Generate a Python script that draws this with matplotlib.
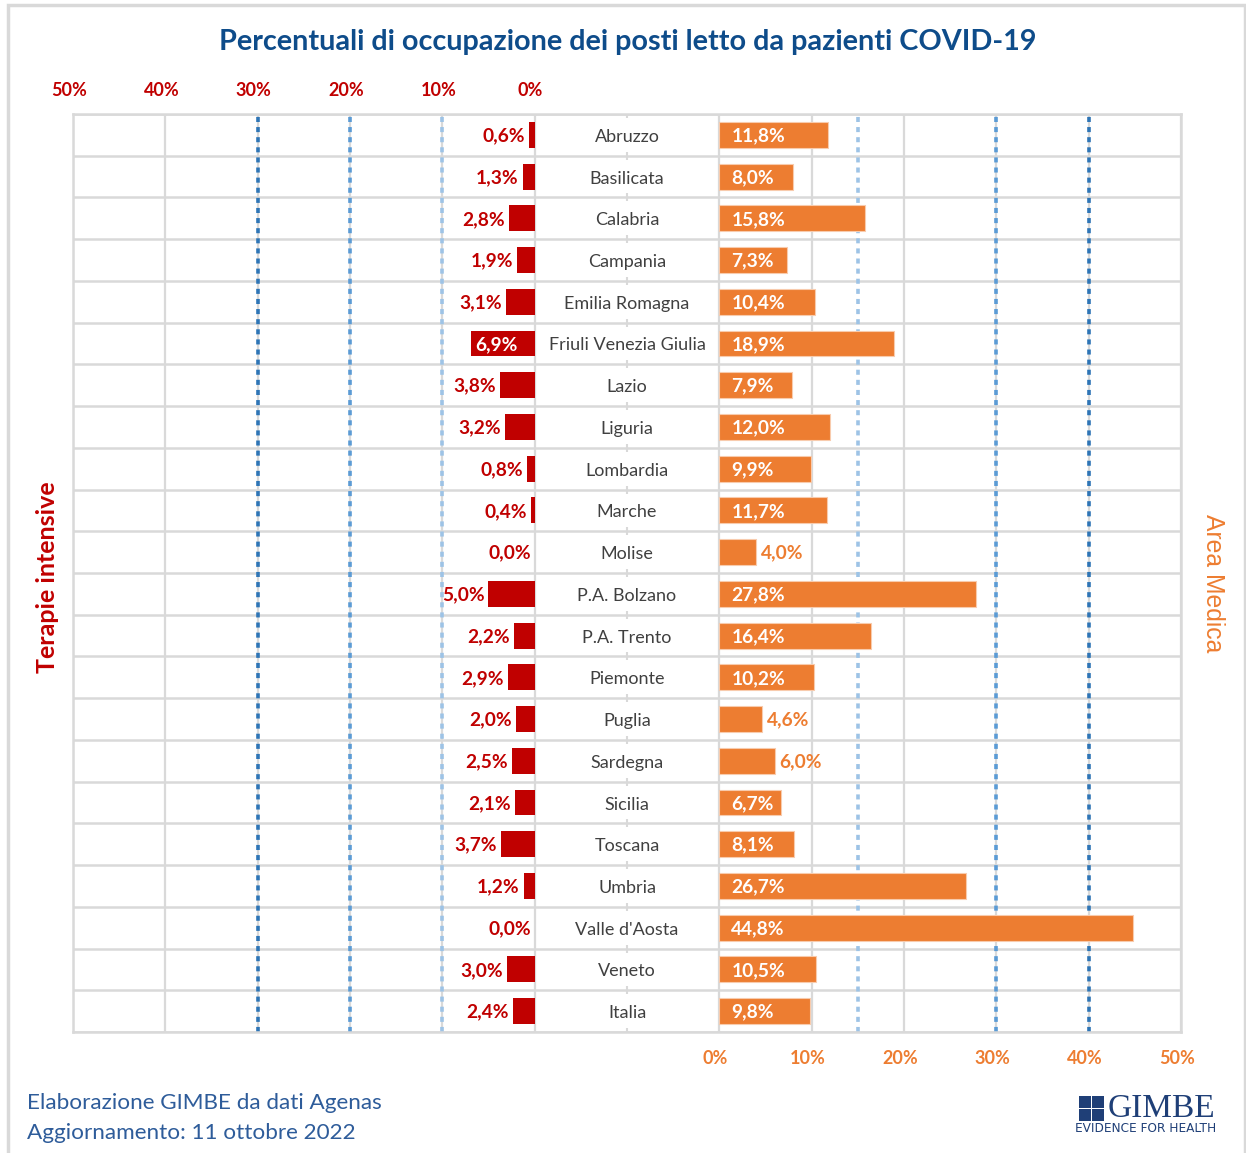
import matplotlib
matplotlib.use("Agg")
import matplotlib.pyplot as plt
from matplotlib.patches import Rectangle
from matplotlib.transforms import ScaledTranslation
import numpy as np

regions = ["Abruzzo", "Basilicata", "Calabria", "Campania", "Emilia Romagna",
           "Friuli Venezia Giulia", "Lazio", "Liguria", "Lombardia", "Marche",
           "Molise", "P.A. Bolzano", "P.A. Trento", "Piemonte", "Puglia",
           "Sardegna", "Sicilia", "Toscana", "Umbria", "Valle d'Aosta",
           "Veneto", "Italia"]
terapie_intensive = [0.6, 1.3, 2.8, 1.9, 3.1, 6.9, 3.8, 3.2, 0.8, 0.4, 0.0,
                     5.0, 2.2, 2.9, 2.0, 2.5, 2.1, 3.7, 1.2, 0.0, 3.0, 2.4]
area_medica = [11.8, 8.0, 15.8, 7.3, 10.4, 18.9, 7.9, 12.0, 9.9, 11.7, 4.0,
               27.8, 16.4, 10.2, 4.6, 6.0, 6.7, 8.1, 26.7, 44.8, 10.5, 9.8]
tick_values = [0, 10, 20, 30, 40, 50]
ti_thresholds = [10, 20, 30]
am_thresholds = [15, 30, 40]

RED = "#C00000"
ORANGE = "#ED7D31"
GRID = "#D9D9D9"
TITLE_BLUE = "#0E4C8A"
THRESH_COLORS = ["#9DC3E6", "#5B9BD5", "#2E75B6"]

# layout: left panel 0..50 (reversed), label gap 50..70, right panel 70..120
L0 = 50
R0 = 70
MID = 60
XMAX = 120

plt.rcParams['font.family'] = ['Lato', 'DejaVu Sans']

W, H = 1246, 1153
fig = plt.figure(figsize=(W / 100, H / 100), dpi=100)
fig.patch.set_facecolor("white")

# outer frame
fig.patches.append(Rectangle((8 / W, -0.05), (1245 - 8) / W, 1.05 - 5 / H,
                             transform=fig.transFigure, fill=False,
                             edgecolor=GRID, linewidth=2.5))

ax = fig.add_axes([73 / W, 1 - 1032 / H, (1181 - 73) / W, (1032 - 114) / H])
n = len(regions)
y = np.arange(n) + 0.5
ax.set_xlim(0, XMAX)
ax.set_ylim(n, 0)

ti = np.array(terapie_intensive)
am = np.array(area_medica)

# grid
for u in [L0 - t for t in tick_values] + [R0 + t for t in tick_values]:
    ax.axvline(u, color=GRID, lw=1.6, zorder=0)
for k in range(n + 1):
    ax.axhline(k, color=GRID, lw=1.8, zorder=0)
ax.scatter([MID] * (n + 1), np.arange(n + 1), marker="|", s=30,
           color=GRID, linewidths=1.5, zorder=0)

# thresholds
for t, c in zip(ti_thresholds, THRESH_COLORS):
    ax.axvline(L0 - t, color=c, lw=2.6, linestyle=(0, (1.4, 1.4)), zorder=1)
for t, c in zip(am_thresholds, THRESH_COLORS):
    ax.axvline(R0 + t, color=c, lw=2.6, linestyle=(0, (1.4, 1.4)), zorder=1)

bh = 0.62
ax.barh(y, ti, left=L0 - ti, height=bh, color=RED, zorder=3)
ax.barh(y, am, left=R0, height=bh, color=ORANGE, edgecolor="#F8CBAD",
        linewidth=0.8, zorder=3)

fmt = lambda v: f"{v:.1f}%".replace(".", ",")
VS = 13.8

for yi, v in zip(y, ti):
    if v >= 6:
        ax.annotate(fmt(v), (L0 - v, yi), xytext=(4, -1),
                    textcoords="offset pixels", ha="left", va="center",
                    color="white", fontsize=VS, fontweight="bold", zorder=4)
    else:
        ax.annotate(fmt(v), (L0 - v, yi), xytext=(-4, -1),
                    textcoords="offset pixels", ha="right", va="center",
                    color=RED, fontsize=VS, fontweight="bold", zorder=4)

for yi, v in zip(y, am):
    if v >= 6.5:
        ax.annotate(fmt(v), (R0, yi), xytext=(12, -1),
                    textcoords="offset pixels", ha="left", va="center",
                    color="white", fontsize=VS, fontweight="bold", zorder=4)
    else:
        ax.annotate(fmt(v), (R0 + v, yi), xytext=(5, -1),
                    textcoords="offset pixels", ha="left", va="center",
                    color=ORANGE, fontsize=VS, fontweight="bold", zorder=4)

for yi, name in zip(y, regions):
    ax.annotate(name, (MID, yi), xytext=(0, -2), textcoords="offset pixels",
                ha="center", va="center", color="#404040", fontsize=13, zorder=4)

# axes ticks
ax.set_yticks([])
ax.set_xticks([R0 + t for t in tick_values])
ax.set_xticklabels([f"{t}%" for t in tick_values])
ax.tick_params(axis="x", length=0, pad=13, labelsize=13, labelcolor=ORANGE)
for lbl in ax.get_xticklabels():
    lbl.set_fontweight("bold")
    lbl.set_transform(lbl.get_transform() + ScaledTranslation(-4 / 100, 0, fig.dpi_scale_trans))

top = ax.secondary_xaxis("top")
top.set_xticks([L0 - t for t in tick_values])
top.set_xticklabels([f"{t}%" for t in tick_values])
top.tick_params(axis="x", length=0, pad=11, labelsize=13, labelcolor=RED)
top.spines["top"].set_visible(False)
for lbl in top.get_xticklabels():
    lbl.set_fontweight("bold")
    lbl.set_transform(lbl.get_transform() + ScaledTranslation(-4 / 100, 0, fig.dpi_scale_trans))

for s in ax.spines.values():
    s.set_color(GRID)
    s.set_linewidth(1.8)

# titles and labels
fig.text(628 / W, 1 - 42 / H, "Percentuali di occupazione dei posti letto da pazienti COVID-19",
         ha="center", va="center", fontsize=20.7, fontweight="bold", color=TITLE_BLUE)
fig.text(48 / W, 1 - 577 / H, "Terapie intensive", rotation=90, ha="center",
         va="center", fontsize=18, fontweight="bold", color=RED)
fig.text(1213 / W, 1 - 583 / H, "Area Medica", rotation=270, ha="center",
         va="center", fontsize=17.8, color=ORANGE, family=["Liberation Sans", "DejaVu Sans"])

fig.text(27 / W, 1 - 1103 / H, "Elaborazione GIMBE da dati Agenas", ha="left",
         va="center", fontsize=16.2, color="#2E5C9A")
fig.text(27 / W, 1 - 1133 / H, "Aggiornamento: 11 ottobre 2022", ha="left",
         va="center", fontsize=16.2, color="#2E5C9A")

# logo
NAVY = "#1F3F77"
fig.text(1161 / W, 1 - 1109 / H, "GIMBE", ha="center", va="center",
         fontsize=24, color=NAVY, family=["Liberation Serif", "DejaVu Serif"])
fig.text(1146 / W, 1 - 1129 / H, "EVIDENCE FOR HEALTH", ha="center",
         va="center", fontsize=8.7, color=NAVY, family=["DejaVu Sans"])
icon = fig.add_axes([1079 / W, 1 - 1121 / H, 25 / W, 25 / H])
icon.axis("off")
gx, gy = np.meshgrid(np.arange(6), np.arange(6))
icon.scatter(gx.ravel(), gy.ravel(), marker="s", s=7, color=NAVY, linewidths=0)
icon.set_xlim(-0.6, 5.6)
icon.set_ylim(-0.6, 5.6)

fig.savefig("out.png", dpi=100, facecolor="white")
